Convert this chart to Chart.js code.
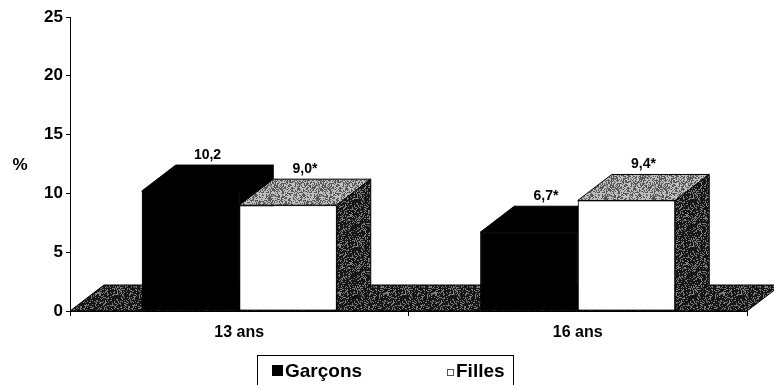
<!DOCTYPE html>
<html>
<head>
<meta charset="utf-8">
<style>
  html, body { margin: 0; padding: 0; background: #fff; }
  #wrap { position: relative; width: 774px; height: 385px; }
</style>
<script src="https://cdn.jsdelivr.net/npm/chart.js@4.4.1/dist/chart.umd.min.js"></script>
</head>
<body>
<div id="wrap"><canvas id="chart" width="774" height="385"></canvas></div>
<script>
// Categories, values (%) and significance marks
const categories = ['13 ans', '16 ans'];
const seriesNames = ['Garçons', 'Filles'];
const garcons = [10.2, 6.7];
const filles = [9.0, 9.4];
const garconsMarks = ['', '*'];
const fillesMarks = ['*', '*'];
const yTicks = [0, 5, 10, 15, 20, 25];

const FONT = "'Liberation Sans', Arial, Helvetica, sans-serif";
const DEPTH_X = 34;   // oblique depth of the 3D boxes
const DEPTH_Y = 26;

// Deterministic fine grain, like a printed halftone
function hash(x, y) {
  let n = Math.imul(x, 374761393) + Math.imul(y, 668265263);
  n = Math.imul(n ^ (n >>> 13), 1274126177);
  n = n ^ (n >>> 16);
  return (n >>> 0) / 4294967296;
}
function grain(ctx, level, light, dark) {
  const S = 48;
  const c = document.createElement('canvas');
  c.width = c.height = S;
  const g = c.getContext('2d');
  for (let y = 0; y < S; y++) {
    for (let x = 0; x < S; x++) {
      g.fillStyle = hash(x, y) < level ? light : dark;
      g.fillRect(x, y, 1, 1);
    }
  }
  return ctx.createPattern(c, 'repeat');
}

let fills = null;
function getFills(ctx) {
  if (!fills) {
    fills = {
      floor: grain(ctx, 0.28, '#7c7c7c', '#161616'),
      top: grain(ctx, 0.55, '#bebebe', '#585858'),
      side: grain(ctx, 0.28, '#7c7c7c', '#161616')
    };
  }
  return fills;
}

function poly(ctx, pts, fill) {
  ctx.beginPath();
  ctx.moveTo(pts[0][0], pts[0][1]);
  for (let i = 1; i < pts.length; i++) ctx.lineTo(pts[i][0], pts[i][1]);
  ctx.closePath();
  ctx.fillStyle = fill;
  ctx.fill();
  ctx.stroke();
}

const fmt = (v, m) => v.toFixed(1).replace('.', ',') + m;

const box3d = {
  id: 'box3d',
  beforeDatasetsDraw(chart) {
    const {ctx, chartArea: a} = chart;
    const f = getFills(ctx);
    ctx.save();
    ctx.strokeStyle = '#000';
    ctx.lineWidth = 1;
    poly(ctx, [
      [a.left, a.bottom],
      [a.left + DEPTH_X, a.bottom - DEPTH_Y],
      [a.right + DEPTH_X, a.bottom - DEPTH_Y],
      [a.right, a.bottom]
    ], f.floor);
    ctx.restore();
  },
  // Boxes are finished left to right so each one hides the side of its neighbour
  afterDatasetsDraw(chart) {
    const {ctx} = chart;
    const f = getFills(ctx);
    const n = chart.data.labels.length;
    for (let i = 0; i < n; i++) {
      chart.data.datasets.forEach((ds, d) => {
        const bar = chart.getDatasetMeta(d).data[i];
        const {x, y, base, width} = bar.getProps(['x', 'y', 'base', 'width'], true);
        const l = x - width / 2, r = x + width / 2;
        bar.draw(ctx, chart.chartArea);
        ctx.save();
        ctx.strokeStyle = '#000';
        ctx.lineWidth = 1;
        const topFill = ds.solid ? '#000' : f.top;
        const sideFill = ds.solid ? '#000' : f.side;
        poly(ctx, [[l, y], [r, y], [r + DEPTH_X, y - DEPTH_Y], [l + DEPTH_X, y - DEPTH_Y]], topFill);
        poly(ctx, [[r, y], [r + DEPTH_X, y - DEPTH_Y], [r + DEPTH_X, base - DEPTH_Y], [r, base]], sideFill);
        ctx.restore();
      });
    }
    // value labels above the top faces
    ctx.save();
    ctx.fillStyle = '#000';
    ctx.font = 'bold 14px ' + FONT;
    ctx.textAlign = 'center';
    ctx.textBaseline = 'alphabetic';
    chart.data.datasets.forEach((ds, d) => {
      chart.getDatasetMeta(d).data.forEach((bar, i) => {
        ctx.fillText(fmt(ds.data[i], ds.marks[i]), bar.x + DEPTH_X / 2, bar.y - DEPTH_Y - 6);
      });
    });
    ctx.restore();
  },
  afterDraw(chart) {
    const {ctx} = chart;
    ctx.save();
    // axis unit
    ctx.fillStyle = '#000';
    ctx.font = 'bold 17px ' + FONT;
    ctx.textAlign = 'center';
    ctx.textBaseline = 'middle';
    ctx.fillText('%', 20, 165);

    // legend frame
    ctx.strokeStyle = '#000';
    ctx.lineWidth = 1;
    ctx.strokeRect(257.5, 355.5, 256, 40);
    // Garçons marker and name
    ctx.fillStyle = '#000';
    ctx.fillRect(272, 365, 11, 11);
    ctx.font = 'bold 19px ' + FONT;
    ctx.textAlign = 'left';
    ctx.textBaseline = 'alphabetic';
    ctx.fillText(chart.data.datasets[0].label, 285, 377);
    // Filles marker and name
    ctx.fillStyle = '#fff';
    ctx.strokeStyle = '#555';
    ctx.fillRect(447, 369, 6, 6);
    ctx.strokeRect(447.5, 369.5, 6, 6);
    ctx.fillStyle = '#000';
    ctx.fillText(chart.data.datasets[1].label, 456, 377);
    ctx.restore();
  }
};

new Chart(document.getElementById('chart'), {
  type: 'bar',
  data: {
    labels: categories,
    datasets: [
      {
        label: seriesNames[0],
        data: garcons,
        marks: garconsMarks,
        solid: true,
        backgroundColor: '#000',
        borderColor: '#000',
        borderWidth: 1,
        borderSkipped: false
      },
      {
        label: seriesNames[1],
        data: filles,
        marks: fillesMarks,
        solid: false,
        backgroundColor: '#fff',
        borderColor: '#000',
        borderWidth: 1,
        borderSkipped: false
      }
    ]
  },
  options: {
    responsive: false,
    animation: false,
    events: [],
    layout: { padding: { left: 0, top: 17, right: 27, bottom: 0 } },
    datasets: { bar: { categoryPercentage: 0.576, barPercentage: 1.0 } },
    plugins: {
      legend: { display: false },
      tooltip: { enabled: false }
    },
    scales: {
      x: {
        offset: true,
        afterFit(scale) { scale.height = 74; },
        grid: { display: true, drawOnChartArea: false, drawTicks: true, tickLength: 5, color: '#000', offset: true },
        border: { display: true, color: '#000', width: 1 },
        ticks: { color: '#000', padding: 7, font: { family: FONT, size: 16, weight: 'bold' } }
      },
      y: {
        min: 0,
        max: 25,
        afterFit(scale) { scale.width = 70; },
        afterBuildTicks(scale) { scale.ticks = yTicks.map(v => ({ value: v })); },
        grid: { display: true, drawOnChartArea: false, drawTicks: true, tickLength: 4, color: '#000' },
        border: { display: true, color: '#000', width: 1 },
        ticks: { color: '#000', padding: 3, font: { family: FONT, size: 17, weight: 'bold' } }
      }
    }
  },
  plugins: [box3d]
});
</script>
</body>
</html>
